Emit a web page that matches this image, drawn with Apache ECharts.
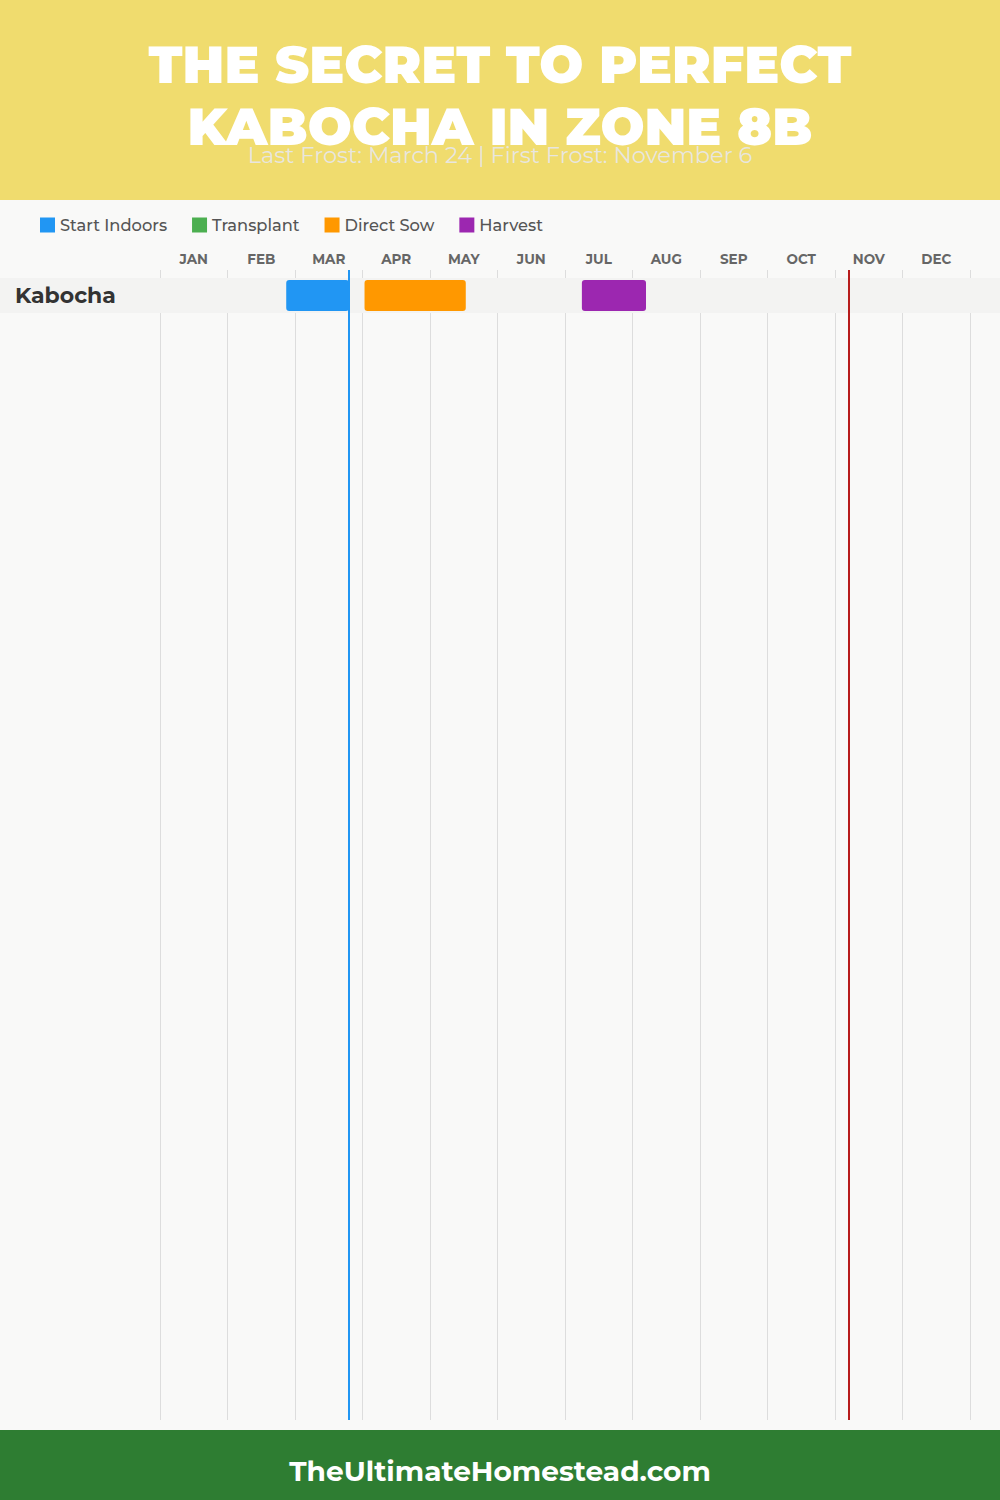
<!DOCTYPE html>
<html><head><meta charset="utf-8">
<script src="https://cdn.jsdelivr.net/npm/echarts@6/dist/echarts.min.js"></script>
<style>html,body{margin:0;padding:0;background:#f9f9f8;}#c{width:1000px;height:1500px;}</style>
</head><body><div id="c"></div>
<script>
const crops = ['Kabocha'];
const months = ['JAN','FEB','MAR','APR','MAY','JUN','JUL','AUG','SEP','OCT','NOV','DEC'];
// values in month units (0 = Jan 1, 12 = end of Dec)
const startIndoors = [[0, 1.87, 2.8]];
const transplant = [];
const directSow = [[0, 3.03, 4.53]];
const harvest = [[0, 6.25, 7.2]];
const lastFrost = 2.8;   // March 24
const firstFrost = 10.2; // November 6
const titleLines = ['THE SECRET TO PERFECT', 'KABOCHA IN ZONE 8B'];
const subtitle = 'Last Frost: March 24 | First Frost: November 6';
const footer = 'TheUltimateHomestead.com';

const FONT = 'Montserrat, "Open Sans", Lato, sans-serif';
const chart = echarts.init(document.getElementById('c'), null, {renderer:'svg'});

function taskItem(color){
  return function(params, api){
    const row = api.value(0);
    const s = api.coord([api.value(1), row]);
    const e = api.coord([api.value(2), row + 1]);
    return {type:'rect', shape:{x:s[0], y:s[1]+2, width:e[0]-s[0], height:e[1]-s[1]-4, r:3}, style:{fill:color}};
  };
}
function taskSeries(name, color, data){
  return {name, type:'custom', xAxisIndex:1, yAxisIndex:0, renderItem:taskItem(color), data,
    itemStyle:{color}, encode:{x:[1,2], y:0}, clip:false, z:5};
}

const option = {
  backgroundColor:'#f9f9f8',
  animation:false,
  textStyle:{fontFamily:FONT},
  grid:{left:160, right:30, top:270, bottom:80},
  legend:{left:35, top:212, icon:'rect', itemWidth:15, itemHeight:15, itemGap:25,
    textStyle:{fontSize:16.3, fontWeight:500, color:'#555', fontFamily:FONT},
    data:['Start Indoors','Transplant','Direct Sow','Harvest']},
  xAxis:[
    {type:'category', data:months, position:'top', boundaryGap:true,
     axisLine:{show:false}, axisTick:{show:false},
     axisLabel:{fontSize:13.5, fontWeight:'bold', color:'#666', margin:4, fontFamily:FONT},
     splitLine:{show:true, lineStyle:{color:'#dddddd', width:1}}},
    {type:'value', min:0, max:12, show:false}
  ],
  yAxis:[{type:'value', inverse:true, min:-0.2286, max:32.63, show:false}],
  series:[
    {name:'rows', type:'custom', xAxisIndex:1, yAxisIndex:0, clip:false, z:2, silent:true,
     data:crops.map((c,i)=>[i, c]),
     renderItem:function(params, api){
       const row = api.value(0);
       const a = api.coord([0, row]);
       const b = api.coord([0, row+1]);
       return {type:'group', children:[
         {type:'rect', shape:{x:0, y:a[1], width:api.getWidth(), height:b[1]-a[1]}, style:{fill:'#f3f3f2'}},
         {type:'text', x:15, y:(a[1]+b[1])/2, style:{text:crops[row], fill:'#333', font:'bold 22px '+FONT, textVerticalAlign:'middle', textAlign:'left'}}
       ]};
     },
     markLine:{silent:true, symbol:'none', label:{show:false},
       data:[{xAxis:lastFrost, lineStyle:{color:'#2196F3', width:2, type:'solid'}},
             {xAxis:firstFrost, lineStyle:{color:'#B71C1C', width:2, type:'solid'}}]}
    },
    taskSeries('Start Indoors', '#2196F3', startIndoors),
    taskSeries('Transplant', '#4CAF50', transplant),
    taskSeries('Direct Sow', '#FF9800', directSow),
    taskSeries('Harvest', '#9C27B0', harvest)
  ],
  graphic:[
    {type:'rect', shape:{x:0, y:0, width:1000, height:200}, style:{fill:'#F0DC6E'}, z:0},
    {type:'text', x:500, y:64, style:{text:titleLines[0], fill:'#fff', font:'900 52px '+FONT, textAlign:'center', textVerticalAlign:'middle'}},
    {type:'text', x:500, y:126, style:{text:titleLines[1], fill:'#fff', font:'900 52px '+FONT, textAlign:'center', textVerticalAlign:'middle'}},
    {type:'text', x:500, y:155, style:{text:subtitle, fill:'#e8e6df', font:'22.5px '+FONT, textAlign:'center', textVerticalAlign:'middle'}},
    {type:'rect', shape:{x:0, y:1430, width:1000, height:70}, style:{fill:'#2E7D32'}},
    {type:'text', x:500, y:1471, style:{text:footer, fill:'#fff', font:'bold 28px '+FONT, textAlign:'center', textVerticalAlign:'middle'}}
  ]
};
chart.setOption(option);
</script></body></html>
